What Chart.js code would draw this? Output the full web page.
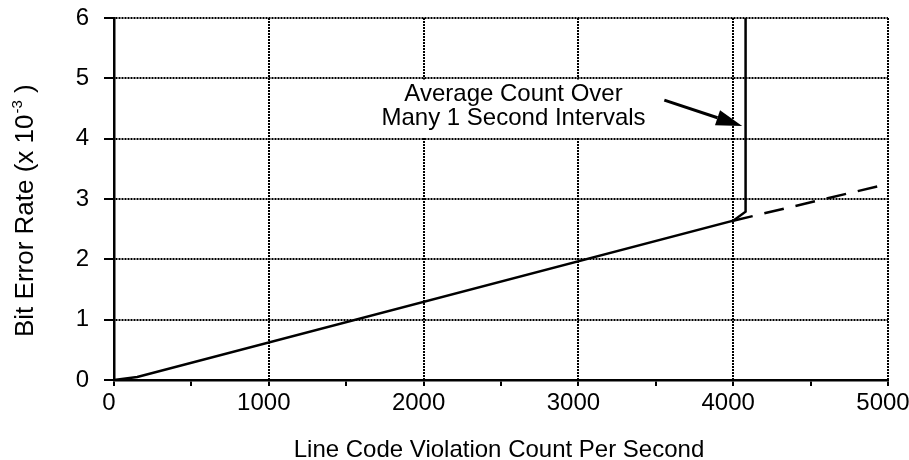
<!DOCTYPE html>
<html>
<head>
<meta charset="utf-8">
<script src="https://cdn.jsdelivr.net/npm/chart.js@4"></script>
<style>
  html, body { margin: 0; padding: 0; background: #fff; }
  #wrap { width: 909px; height: 460px; }
</style>
</head>
<body>
<div id="wrap"><canvas id="chart" width="909" height="460"></canvas></div>
<script>
// measured curve (x = violations per second, y = BER x 10^-3)
const mainX = [0, 150, 4000, 4080, 4080];
const mainY = [0, 0.05, 2.64, 2.79, 6];
// dashed extension past the knee
const dashX = [4000, 5000];
const dashY = [2.64, 3.25];

const xTitle = "Line Code Violation Count Per Second";
const yTitle = "Bit Error Rate (x 10";
const yTitleSup = "-3";
const noteLines = ["Average Count Over", "Many 1 Second Intervals"];

const FONT = "'Liberation Sans', Arial, sans-serif";

const toPts = (xs, ys) => xs.map((x, i) => ({ x: x, y: ys[i] }));

// keep the plot box fixed: no extra room for overhanging labels
const noPad = (s) => {
  s.paddingTop = 0;
  s.paddingBottom = 0;
  s.paddingLeft = 0;
  s.paddingRight = 0;
};

const extras = {
  id: "extras",
  afterDatasetsDraw(chart) {
    const ctx = chart.ctx;
    const xs = chart.scales.x;
    const ys = chart.scales.y;
    ctx.save();

    // white box behind the note
    const bx1 = xs.getPixelForValue(1716), bx2 = xs.getPixelForValue(3445);
    const by1 = ys.getPixelForValue(4.98), by2 = ys.getPixelForValue(4.02);
    ctx.fillStyle = "#fff";
    ctx.fillRect(bx1, by1, bx2 - bx1, by2 - by1);

    // note text
    ctx.fillStyle = "#000";
    ctx.font = "24px " + FONT;
    ctx.textAlign = "center";
    ctx.textBaseline = "alphabetic";
    const cx = xs.getPixelForValue(2581);
    ctx.fillText(noteLines[0], cx, ys.getPixelForValue(4.62));
    ctx.fillText(noteLines[1], cx, ys.getPixelForValue(4.22));

    // arrow
    const ax1 = xs.getPixelForValue(3555), ay1 = ys.getPixelForValue(4.64);
    const ax2 = xs.getPixelForValue(4058), ay2 = ys.getPixelForValue(4.21);
    const ang = Math.atan2(ay2 - ay1, ax2 - ax1);
    const hl = 26, hw = 8;
    ctx.strokeStyle = "#000";
    ctx.lineWidth = 3;
    ctx.beginPath();
    ctx.moveTo(ax1, ay1);
    ctx.lineTo(ax2 - hl * Math.cos(ang), ay2 - hl * Math.sin(ang));
    ctx.stroke();
    ctx.beginPath();
    ctx.moveTo(ax2, ay2);
    ctx.lineTo(ax2 - hl * Math.cos(ang) + hw * Math.sin(ang), ay2 - hl * Math.sin(ang) - hw * Math.cos(ang));
    ctx.lineTo(ax2 - hl * Math.cos(ang) - hw * Math.sin(ang), ay2 - hl * Math.sin(ang) + hw * Math.cos(ang));
    ctx.closePath();
    ctx.fill();

    // x axis title
    ctx.textAlign = "center";
    ctx.fillText(xTitle, 499, 457);

    // y axis title with superscript
    ctx.translate(33, 337);
    ctx.rotate(-Math.PI / 2);
    ctx.textAlign = "left";
    ctx.font = "26px " + FONT;
    ctx.fillText(yTitle, 0, 0);
    let w = ctx.measureText(yTitle).width;
    ctx.font = "15px " + FONT;
    ctx.fillText(yTitleSup, w + 1, -11);
    w += ctx.measureText(yTitleSup).width + 1;
    ctx.font = "26px " + FONT;
    ctx.fillText(" )", w, 0);
    ctx.restore();
  }
};

new Chart(document.getElementById("chart"), {
  type: "scatter",
  data: {
    datasets: [
      {
        data: toPts(mainX, mainY),
        showLine: true,
        borderColor: "#000",
        borderWidth: 2.5,
        pointRadius: 0,
        tension: 0
      },
      {
        data: toPts(dashX, dashY),
        showLine: true,
        borderColor: "#000",
        borderWidth: 2.5,
        borderDash: [20, 12],
        pointRadius: 0,
        tension: 0
      }
    ]
  },
  options: {
    responsive: false,
    animation: false,
    events: [],
    layout: { padding: { top: 18, right: 21, left: 0, bottom: 0 } },
    plugins: {
      legend: { display: false },
      tooltip: { enabled: false }
    },
    scales: {
      x: {
        type: "linear",
        min: 0,
        max: 5000,
        afterFit: (s) => { s.height = 80; noPad(s); },
        border: { display: true, color: "#000", width: 2.5, dash: [2, 1] },
        grid: {
          color: (c) => (c.tick && c.tick.value % 1000 === 0 ? "#000" : "rgba(0,0,0,0)"),
          lineWidth: 2,
          tickColor: "#000",
          tickWidth: 2,
          tickLength: 6,
          tickBorderDash: []
        },
        ticks: {
          stepSize: 500,
          padding: 3,
          labelOffset: -5,
          color: "#000",
          font: { family: FONT, size: 24 },
          maxRotation: 0,
          autoSkip: false,
          callback: (v) => (v % 1000 === 0 ? String(v) : "")
        }
      },
      y: {
        type: "linear",
        min: 0,
        max: 6,
        afterFit: (s) => { s.width = 114; noPad(s); },
        border: { display: true, color: "#000", width: 2.5, dash: [2, 1] },
        grid: {
          color: "#000",
          lineWidth: 2,
          tickColor: "#000",
          tickWidth: 2,
          tickLength: 10,
          tickBorderDash: []
        },
        ticks: {
          stepSize: 1,
          padding: 15,
          color: "#000",
          font: { family: FONT, size: 24 }
        }
      }
    }
  },
  plugins: [extras]
});
</script>
</body>
</html>
